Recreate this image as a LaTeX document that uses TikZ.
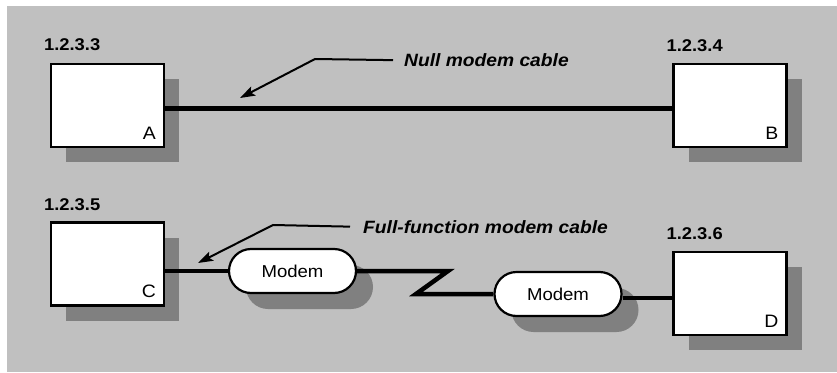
\documentclass[tikz,border=0pt]{standalone}
\usepackage{fontspec}
\setmainfont{Liberation Sans}[FakeStretch=1.08]
\usetikzlibrary{shapes.misc,shadows,arrows.meta}
\definecolor{bg}{RGB}{192,192,192}
\definecolor{shade}{RGB}{128,128,128}
\begin{document}
\begin{tikzpicture}[x=1pt,y=-1pt,
 host/.style={draw=black, line width=2.2pt, fill=white, rectangle, minimum width=113pt, minimum height=83pt, inner sep=0pt,
   drop shadow={shadow xshift=15pt, shadow yshift=-15pt, fill=shade, opacity=1}},
 modem/.style={draw=black, line width=2.2pt, fill=white, rounded rectangle, minimum width=127pt, minimum height=44pt, inner sep=0pt,
   font=\fontsize{17.2}{19}\selectfont,
   drop shadow={shadow xshift=17pt, shadow yshift=-16pt, fill=shade, opacity=1}},
 addr/.style={anchor=base west, inner sep=0pt, font=\bfseries\fontsize{17}{19}\selectfont},
 letter/.style={anchor=base east, inner sep=0pt, font=\fontsize{18}{20}\selectfont},
 cable/.style={line width=4.5pt},
 callout/.style={anchor=base west, inner ysep=0pt, font=\bfseries\itshape\fontsize{17.8}{20}\selectfont},
 pointer/.style={line width=2pt, -{Stealth[length=15pt,width=10pt,inset=3pt]}}
]
\useasboundingbox (0,0) rectangle (837,372);
\fill[bg] (7,6) rectangle (837,372);

% hosts
\node[host] (A) at (107.5,105.5) {};
\node[host] (B) at (730,105.5) {};
\node[host] (C) at (107.5,264) {};
\node[host] (D) at (730,293.5) {};

% modems
\node[modem] (M1) at (292.5,271) {Modem};
\node[modem] (M2) at (558,294) {Modem};

% host letters
\node[letter] (la) at ([xshift=-9pt,yshift=9pt]A.south east) {A};
\node[letter] (lb) at ([xshift=-9pt,yshift=9pt]B.south east) {B};
\node[letter] (lc) at ([xshift=-9pt,yshift=9pt]C.south east) {C};
\node[letter] (ld) at ([xshift=-9pt,yshift=9pt]D.south east) {D};

% addresses
\node[addr] (aa) at ([xshift=-6pt,yshift=12pt]A.north west) {1.2.3.3};
\node[addr] (ab) at ([xshift=-6pt,yshift=11pt]B.north west) {1.2.3.4};
\node[addr] (ac) at ([xshift=-6pt,yshift=11pt]C.north west) {1.2.3.5};
\node[addr] (ad) at ([xshift=-6pt,yshift=11pt]D.north west) {1.2.3.6};

% cables
\draw[cable] ([yshift=-3pt]A.east) -- ([yshift=-3pt]B.west);
\draw[cable] (M1.west -| C.east) -- (M1.west);
\coordinate (z1) at (448,271);
\coordinate (z2) at (416,294);
\draw[cable, line join=miter] (M1.east) -- (z1) -- (z2) -- (M2.west);
\draw[cable] ([yshift=-4pt]M2.east) -- ([yshift=-4pt]M2.east -| D.west);

% callouts
\node[callout, inner xsep=11pt] (nt) at (393,66.5) {Null modem cable};
\coordinate (n2) at (315,59);
\coordinate (n3) at (240,98);
\draw[pointer] (nt.west) -- (n2) -- (n3);

\node[callout, inner xsep=13pt] (ft) at (350,233) {Full-function modem cable};
\coordinate (f2) at (273,225);
\coordinate (f3) at (198,263);
\draw[pointer] (ft.west) -- (f2) -- (f3);
\end{tikzpicture}
\end{document}
